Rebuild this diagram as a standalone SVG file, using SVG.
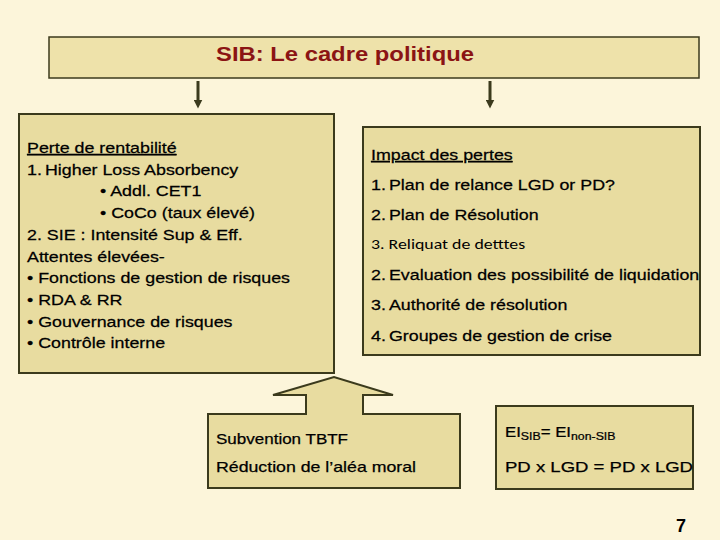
<svg xmlns="http://www.w3.org/2000/svg" width="720" height="540" viewBox="0 0 720 540">
<defs>
<style>
.box{fill:#E8DCA0;stroke:#3B3A1C;stroke-width:2}
.t{font-family:"Liberation Sans",Arial,sans-serif;font-size:15px;fill:#000;stroke:#000;stroke-width:0.25}
.c{font-family:Carlito,"Liberation Sans",sans-serif;font-size:15px;fill:#000}
.conn{stroke:#3B3A1C;stroke-width:3;fill:none}
</style>
<marker id="ah" viewBox="0 0 10 10" refX="5" refY="5" markerWidth="3" markerHeight="3" orient="auto">
<path d="M0,0 L10,5 L0,10 z" fill="#3B3A1C"/>
</marker>
</defs>
<rect width="720" height="540" fill="#FCF5DA"/>
<g id="title">
<rect x="49" y="37" width="650" height="41" fill="#EEE2AA" stroke="#3B3A1C" stroke-width="1.5"/>
<text x="216" y="61" textLength="258" lengthAdjust="spacingAndGlyphs" font-family="Liberation Sans,Arial,sans-serif" font-size="21" font-weight="bold" fill="#8B1414">SIB: Le cadre politique</text>
</g>
<g id="connectors">
<line class="conn" x1="198" y1="81" x2="198" y2="104" marker-end="url(#ah)"/>
<line class="conn" x1="490" y1="81" x2="490" y2="104" marker-end="url(#ah)"/>
</g>
<g id="left">
<rect class="box" x="19" y="114" width="315" height="259"/>
<text class="t" transform="translate(27,153) scale(1.19,1)" text-decoration="underline">Perte de rentabilité</text>
<text class="t" transform="translate(27,175) scale(1.19,1)">1.<tspan x="15.1">Higher Loss Absorbency</tspan></text>
<text class="t" transform="translate(100,196) scale(1.19,1)">• Addl. CET1</text>
<text class="t" transform="translate(100,218) scale(1.19,1)">• CoCo (taux élevé)</text>
<text class="t" transform="translate(27,240) scale(1.19,1)">2. SIE : Intensité Sup &amp; Eff.</text>
<text class="t" transform="translate(27,262) scale(1.19,1)">Attentes élevées-</text>
<text class="t" transform="translate(27,283) scale(1.19,1)">• Fonctions de gestion de risques</text>
<text class="t" transform="translate(27,305) scale(1.19,1)">• RDA &amp; RR</text>
<text class="t" transform="translate(27,327) scale(1.19,1)">• Gouvernance de risques</text>
<text class="t" transform="translate(27,348) scale(1.19,1)">• Contrôle interne</text>
</g>
<g id="right">
<rect class="box" x="363" y="127" width="337" height="228"/>
<text class="t" transform="translate(371,160) scale(1.19,1)" text-decoration="underline">Impact des pertes</text>
<text class="t" transform="translate(371,190) scale(1.19,1)">1.<tspan x="15.1">Plan de relance LGD or PD?</tspan></text>
<text class="t" transform="translate(371,220) scale(1.19,1)">2.<tspan x="15.1">Plan de Résolution</tspan></text>
<text class="c" transform="translate(371,249) scale(1.19,1)">3. Reliquat de detttes</text>
<text class="t" transform="translate(371,280) scale(1.19,1)">2.<tspan x="15.1">Evaluation des possibilité de liquidation</tspan></text>
<text class="t" transform="translate(371,310) scale(1.19,1)">3.<tspan x="15.1">Authorité de résolution</tspan></text>
<text class="t" transform="translate(371,341) scale(1.19,1)">4.<tspan x="15.1">Groupes de gestion de crise</tspan></text>
</g>
<g id="callout">
<path class="box" d="M208,414 H306 V395 H273 L334,377 L393,395 H363 V414 H460 V488 H208 Z"/>
<text class="t" x="216" y="444" textLength="132" lengthAdjust="spacingAndGlyphs" font-size="16">Subvention TBTF</text>
<text class="t" x="216" y="472" textLength="200" lengthAdjust="spacingAndGlyphs" font-size="16">Réduction de l’aléa moral</text>
</g>
<g id="ei">
<rect class="box" x="496" y="406" width="197" height="83"/>
<text class="t" transform="translate(505,437) scale(1.12,1)" font-size="16">EI<tspan font-size="11" dy="3">SIB</tspan><tspan dy="-3">= EI</tspan><tspan font-size="11" dy="3">non-SIB</tspan></text>
<text class="t" x="505" y="472" textLength="188" lengthAdjust="spacingAndGlyphs" font-size="19">PD x LGD = PD x LGD</text>
</g>
<text x="676" y="532" font-family="Liberation Sans,Arial,sans-serif" font-size="18" font-weight="bold" fill="#000">7</text>
</svg>
